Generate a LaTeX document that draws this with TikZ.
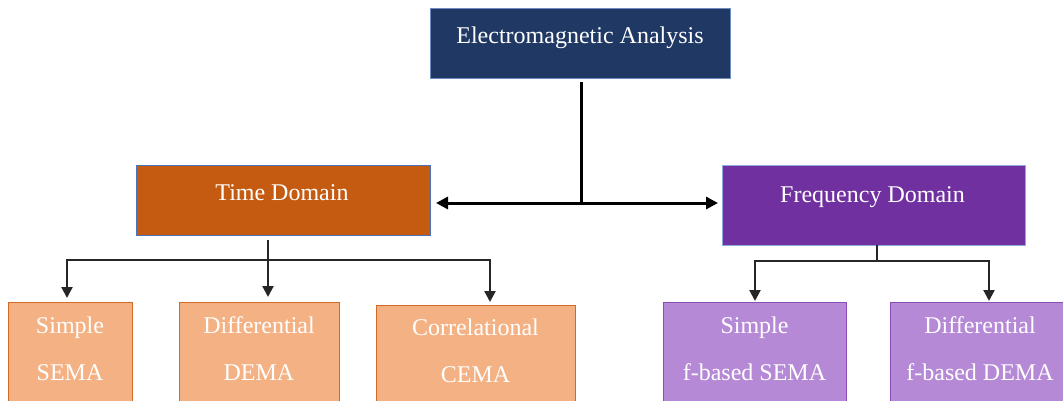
\documentclass[tikz,border=0pt]{standalone}
\usepackage{fontspec}
\setmainfont{Liberation Serif}
\usetikzlibrary{arrows.meta}
\definecolor{navy}{HTML}{203864}
\definecolor{navyline}{HTML}{6F8CC0}
\definecolor{rust}{HTML}{C55A11}
\definecolor{rustline}{HTML}{4A72B8}
\definecolor{plum}{HTML}{7030A0}
\definecolor{plumline}{HTML}{8FAADC}
\definecolor{peach}{HTML}{F4B183}
\definecolor{peachline}{HTML}{D06A25}
\definecolor{lilac}{HTML}{B589D6}
\definecolor{lilacline}{HTML}{8A4DB8}
\tikzset{
  box/.style={draw, line width=1pt, minimum width=#1, inner sep=0pt, outer sep=0pt},
  txt/.style={text=white, anchor=base, inner sep=0pt, font=\fontsize{24}{28}\selectfont},
  mainline/.style={line width=3pt, draw=black},
  subline/.style={line width=2.2pt, draw=black!85},
  tipA/.style={-{Triangle[length=12pt,width=12pt]}},
  tipB/.style={-{Triangle[length=11pt,width=11pt]}},
}
\begin{document}
\begin{tikzpicture}[x=1pt,y=-1pt]
\useasboundingbox (0,0) rectangle (1063,400);
\clip (0,0) rectangle (1063,400);
% boxes
\node[box=300pt, minimum height=70pt, fill=navy, draw=navyline] (em) at (580,43) {};
\node[box=294pt, minimum height=70pt, fill=rust, draw=rustline] (td) at (283,200) {};
\node[box=303pt, minimum height=80pt, fill=plum, draw=plumline] (fd) at (873.5,205) {};
\node[box=124pt, minimum height=110pt, fill=peach, draw=peachline] (c1) at (70,357) {};
\node[box=160pt, minimum height=110pt, fill=peach, draw=peachline] (c2) at (259,357) {};
\node[box=199pt, minimum height=110pt, fill=peach, draw=peachline] (c3) at (475.5,360) {};
\node[box=183pt, minimum height=110pt, fill=lilac, draw=lilacline] (f1) at (754.5,357) {};
\node[box=180pt, minimum height=110pt, fill=lilac, draw=lilacline] (f2) at (980,357) {};
% texts
\node[txt] (emt) at (580,43) {Electromagnetic Analysis};
\node[txt] (tdt) at (282,200) {Time Domain};
\node[txt] (fdt) at (872.5,202) {Frequency Domain};
\node[txt] (c1a) at (70,333) {Simple};
\node[txt] (c1b) at (70,380) {SEMA};
\node[txt] (c2a) at (259,333) {Differential};
\node[txt] (c2b) at (259,380) {DEMA};
\node[txt] (c3a) at (475.5,335) {Correlational};
\node[txt] (c3b) at (475.5,382) {CEMA};
\node[txt] (f1a) at (754.5,333) {Simple};
\node[txt] (f1b) at (754.5,380) {f-based SEMA};
\node[txt] (f2a) at (980,333) {Differential};
\node[txt] (f2b) at (980,380) {f-based DEMA};
% top connectors
\coordinate (hub) at (581,203);
\draw[mainline, shorten <=4pt] ([xshift=1pt]em.south) -- (hub);
\draw[mainline, tipA, shorten >=6pt] (hub) -- (hub -| td.east);
\draw[mainline, tipA, shorten >=4pt] (hub) -- (hub -| fd.west);
% time domain branch
\coordinate (tdb) at (268,260);
\draw[subline, shorten <=5pt] ([xshift=-15pt]td.south) -- (tdb);
\draw[subline, tipB, shorten >=4pt] (tdb) -| ([xshift=-3pt]c1.north);
\draw[subline, tipB, shorten >=5pt] (tdb) -- (tdb |- c2.north);
\draw[subline, tipB, shorten >=3pt] (tdb) -| ([xshift=14.5pt]c3.north);
% frequency domain branch
\coordinate (fdb) at (877,261);
\draw[subline] ([xshift=3.5pt]fd.south) -- (fdb);
\draw[subline, tipB, shorten >=1pt] (fdb) -| ([xshift=0.5pt]f1.north);
\draw[subline, tipB, shorten >=1pt] (fdb) -| ([xshift=9pt]f2.north);
\end{tikzpicture}
\end{document}
